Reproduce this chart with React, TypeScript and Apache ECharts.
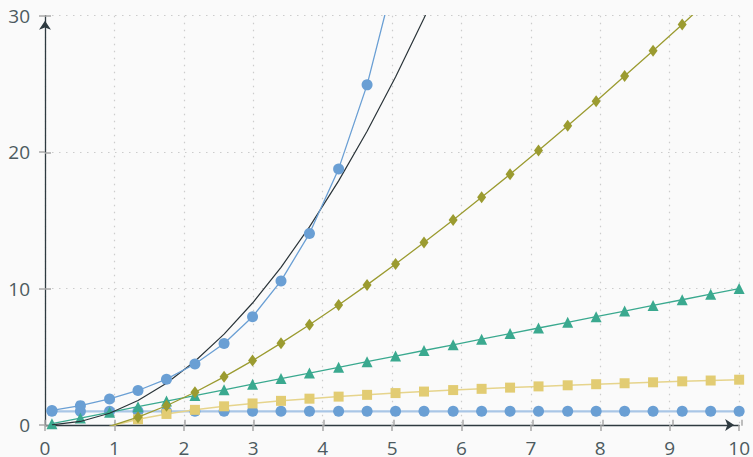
import React, { useEffect, useRef } from "react";
import * as echarts from "echarts";

// Sample positions along x
const xs = [0.1, 0.51, 0.93, 1.34, 1.75, 2.16, 2.58, 2.99, 3.4, 3.81, 4.23, 4.64, 5.05, 5.46, 5.88, 6.29, 6.7, 7.11, 7.53, 7.94, 8.35, 8.76, 9.18, 9.59, 10];

const constantVals = [1, 1, 1, 1, 1, 1, 1, 1, 1, 1, 1, 1, 1, 1, 1, 1, 1, 1, 1, 1, 1, 1, 1, 1, 1];
const logVals = [-3.32, -0.97, -0.105, 0.42, 0.81, 1.11, 1.37, 1.58, 1.77, 1.93, 2.08, 2.21, 2.34, 2.45, 2.56, 2.65, 2.74, 2.83, 2.91, 2.99, 3.06, 3.13, 3.2, 3.26, 3.32];
const linearVals = [0.1, 0.51, 0.93, 1.34, 1.75, 2.16, 2.58, 2.99, 3.4, 3.81, 4.23, 4.64, 5.05, 5.46, 5.88, 6.29, 6.7, 7.11, 7.53, 7.94, 8.35, 8.76, 9.18, 9.59, 10];
const nlognVals = [-0.33, -0.5, -0.1, 0.57, 1.41, 2.4, 3.53, 4.72, 6.0, 7.35, 8.8, 10.27, 11.8, 13.37, 15.03, 16.69, 18.38, 20.12, 21.93, 23.73, 25.58, 27.43, 29.36, 31.28, 33.2];
const quadVals = [0.01, 0.26, 0.86, 1.8, 3.06, 4.67, 6.66, 8.94, 11.56, 14.52, 17.89, 21.53, 25.5, 29.81, 34.57, 39.56, 44.89, 50.55, 56.7, 63.04, 69.72, 76.74, 84.27, 91.97, 100];
const expVals = [1.07, 1.42, 1.91, 2.53, 3.36, 4.47, 5.98, 7.94, 10.56, 14.03, 18.77, 24.93, 33.13, 44.0, 58.9];

const xTicks = [0, 1, 2, 3, 4, 5, 6, 7, 8, 9, 10];
const yTicks = [0, 10, 20, 30];

const pairs = (ys: number[]) => ys.map((y, i) => [xs[i], y]);

export default function App() {
  const ref = useRef<HTMLDivElement>(null);
  useEffect(() => {
    if (!ref.current) return;
    const chart = echarts.init(ref.current, null, { renderer: "svg" });
    const font = "'Open Sans', 'Noto Sans', sans-serif";
    const axisColor = "#2e3a40";
    const labelColor = "#4d5a5f";
    const tickColor = "#a9a9a9";
    const gridColor = "#cccccc";
    const gridRect = { left: 45, right: 11, top: 15.7, bottom: 31.3 };
    const xMin = xTicks[0];
    const xMax = xTicks[xTicks.length - 1];
    const yMin = yTicks[0];
    const yMax = yTicks[yTicks.length - 1];
    const base = (color: string, symbol: string, size: any, lw: number, lineColor?: string) => ({
      type: "line",
      xAxisIndex: 0,
      yAxisIndex: 0,
      symbol,
      symbolSize: size,
      showSymbol: true,
      clip: true,
      itemStyle: { color, borderWidth: 0 },
      lineStyle: { color: lineColor || color, width: lw },
    });
    chart.setOption({
      animation: false,
      backgroundColor: "#fafafa",
      grid: [
        { ...gridRect },
        { ...gridRect },
      ],
      xAxis: [
        {
          type: "value",
          gridIndex: 0,
          min: xMin,
          max: xMax,
          interval: 1,
          axisLine: {
            show: true,
            onZero: false,
            symbol: ["none", "arrow"],
            symbolSize: [9, 9],
            symbolOffset: [0, -5],
            lineStyle: { color: axisColor, width: 1.3 },
          },
          axisTick: { show: true, length: 6, lineStyle: { color: tickColor, width: 1.5 } },
          axisLabel: { color: labelColor, fontSize: 19, lineHeight: 19, fontFamily: font, margin: 13 },
          splitLine: { show: true, lineStyle: { color: gridColor, type: [1.5, 5.5], width: 1.2 } },
        },
        {
          type: "value",
          gridIndex: 1,
          min: xMin,
          max: xMax,
          interval: 1,
          axisLine: { show: false },
          axisTick: { show: true, inside: true, length: 6, lineStyle: { color: tickColor, width: 1.5 } },
          axisLabel: { show: false },
          splitLine: { show: false },
        },
      ],
      yAxis: [
        {
          type: "value",
          gridIndex: 0,
          min: yMin,
          max: yMax,
          interval: 10,
          axisLine: {
            show: true,
            onZero: false,
            symbol: ["none", "arrow"],
            symbolSize: [9, 9],
            symbolOffset: [0, -5],
            lineStyle: { color: axisColor, width: 1.3 },
          },
          axisTick: { show: true, length: 6, lineStyle: { color: tickColor, width: 1.5 } },
          axisLabel: { color: labelColor, fontSize: 19, fontFamily: font, margin: 15 },
          splitLine: { show: true, lineStyle: { color: gridColor, type: [1.5, 5.5], width: 1.2 } },
        },
        {
          type: "value",
          gridIndex: 1,
          min: yMin,
          max: yMax,
          interval: 10,
          axisLine: { show: false },
          axisTick: { show: true, inside: true, length: 6, lineStyle: { color: tickColor, width: 1.5 } },
          axisLabel: { show: false },
          splitLine: { show: false },
        },
      ],
      series: [
        { ...base("#6a9fd4", "circle", 11, 2.2, "#a9c6e6"), name: "O(1)", data: pairs(constantVals), z: 2 },
        { ...base("#e2cc73", "rect", 10, 1.5, "#e6d48c"), name: "O(log n)", data: pairs(logVals), z: 3 },
        { ...base("#3aa98f", "triangle", 11, 1.3), name: "O(n)", data: pairs(linearVals), z: 4 },
        { ...base("#9b9b30", "diamond", [9, 12], 1.3), name: "O(n log n)", data: pairs(nlognVals), z: 5 },
        { ...base("#2a3439", "none", 0, 1.2), name: "O(n^2)", showSymbol: false, data: pairs(quadVals), z: 6 },
        { ...base("#6a9fd4", "circle", 11, 1.3), name: "O(2^n)", data: pairs(expVals), z: 7 },
      ],
    });
    return () => chart.dispose();
  }, []);
  return (
    <div
      ref={ref}
      style={{ position: "absolute", left: 0, top: 0, width: 753, height: 457 }}
    />
  );
}
